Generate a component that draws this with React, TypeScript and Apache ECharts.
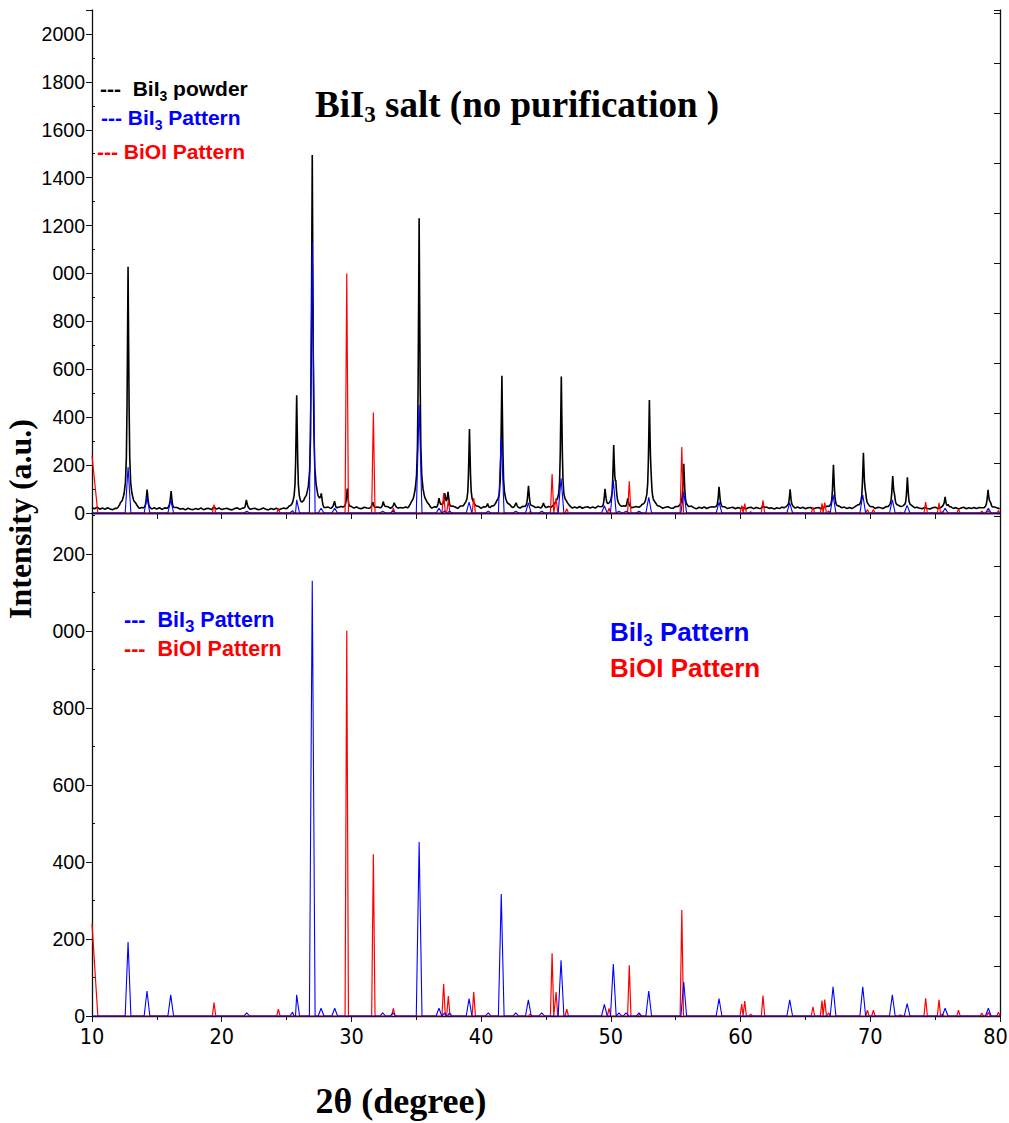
import React, { useEffect, useRef } from "react";
import * as echarts from "echarts";

// ---------- axis / tick data ----------
const xMin = 10;
const xMax = 80;
const topYMax = 2100;
const bottomYMax = 1306;
const topYTickLabels = ["0", "200", "400", "600", "800", "000", "1200", "1400", "1600", "1800", "2000"];
const bottomYTickLabels = ["0", "200", "400", "600", "800", "000", "200"];

// ---------- BiI3 powder (measured) ----------
// background read every 0.2 deg from 10 to 80
const powderBaseStart = 10;
const powderBaseStep = 0.2;
const powderBaseline = [
  22, 18, 24, 16, 21, 15, 22, 17, 14, 20,
  16, 22, 15, 20, 23, 17, 14, 21, 16, 20,
  15, 21, 17, 13, 20, 16, 22, 14, 19, 15,
  20, 14, 18, 21, 15, 19, 13, 20, 16, 14,
  19, 15, 21, 14, 18, 20, 13, 19, 15, 21,
  14, 18, 20, 15, 13, 19, 21, 14, 18, 15,
  19, 13, 18, 20, 14, 16, 21, 16, 13, 19,
  15, 20, 14, 18, 21, 15, 19, 14, 20, 16,
  21, 16, 22, 17, 15, 20, 23, 16, 21, 17,
  20, 23, 17, 22, 16, 21, 24, 18, 22, 17,
  23, 18, 25, 19, 17, 24, 20, 18, 23, 19,
  24, 19, 17, 23, 25, 18, 22, 24, 19, 23,
  20, 25, 19, 23, 18, 24, 20, 26, 19, 23,
  25, 20, 24, 18, 23, 26, 20, 24, 19, 25,
  23, 19, 25, 20, 24, 18, 23, 26, 20, 24,
  19, 25, 21, 18, 24, 20, 26, 19, 23, 25,
  20, 24, 19, 25, 21, 18, 24, 20, 25, 21,
  26, 20, 24, 19, 25, 21, 27, 20, 24, 26,
  21, 25, 20, 26, 22, 19, 25, 21, 27, 20,
  24, 26, 21, 25, 20, 27, 22, 19, 26, 21,
  25, 20, 26, 22, 19, 25, 21, 26, 20, 24,
  27, 21, 25, 20, 26, 22, 19, 25, 21, 26,
  20, 24, 26, 21, 19, 25, 20, 24, 26, 21,
  19, 25, 21, 18, 24, 20, 25, 19, 23, 24,
  20, 18, 24, 19, 23, 17, 22, 24, 18, 23,
  19, 23, 17, 22, 24, 18, 23, 19, 17, 22,
  24, 19, 23, 17, 22, 18, 24, 19, 23, 18,
  22, 17, 23, 19, 24, 18, 22, 23, 17, 21,
  23, 18, 22, 24, 19, 17, 23, 18, 22, 19,
  24, 19, 23, 18, 22, 25, 19, 23, 18, 22,
  19, 23, 18, 24, 22, 17, 23, 19, 24, 18,
  22, 24, 19, 23, 18, 22, 25, 19, 23, 20,
  18, 23, 19, 17, 22, 24, 18, 19, 23, 17,
  19, 23, 18, 22, 17, 21, 24, 18, 22, 19,
  23, 18, 22, 19, 17, 23, 19, 18, 22, 19,
  18,
];
// [2theta, net height above background]
const powderPeaks: [number, number][] = [
  [12.78, 1005], [14.25, 78], [16.1, 75], [19.4, 10], [21.9, 38],
  [25.78, 475], [26.98, 1475], [27.68, 45], [28.7, 30], [29.68, 82],
  [31.65, 23], [32.45, 29], [33.3, 20], [35.22, 1210], [36.75, 38],
  [37.2, 55], [37.45, 60], [39.1, 330], [40.5, 20], [41.6, 550],
  [42.7, 20], [43.65, 90], [44.8, 17], [46.18, 545], [49.55, 73],
  [50.22, 250], [50.38, 70], [51.3, 37], [52.97, 437], [53.1, 60],
  [55.62, 180], [58.34, 87], [61.7, 10], [63.82, 80], [67.16, 180],
  [69.47, 222], [69.62, 45], [71.73, 127], [71.86, 35], [72.86, 130],
  [75.77, 48], [76.0, 12], [79.08, 72], [79.25, 22],
];
// relative peak shape [offset deg, fraction of height]
const peakProfile: [number, number][] = [
  [-0.9, 0], [-0.65, 0.015], [-0.45, 0.035], [-0.3, 0.065], [-0.2, 0.11],
  [-0.13, 0.21], [-0.08, 0.42], [-0.04, 0.7], [0, 1], [0.04, 0.7],
  [0.08, 0.42], [0.13, 0.21], [0.2, 0.11], [0.3, 0.065], [0.45, 0.035],
  [0.65, 0.015], [0.9, 0],
];

// ---------- reference patterns (stick peaks) ----------
const bii3Peaks: [number, number][] = [
  [12.78, 192], [14.24, 65], [16.07, 55], [21.93, 8], [25.47, 10],
  [25.78, 55], [26.98, 1130], [27.66, 20], [28.71, 20], [32.41, 8],
  [33.2, 8], [35.22, 452], [36.75, 20], [37.2, 8], [37.55, 8],
  [39.07, 45], [40.55, 8], [41.55, 317], [42.67, 8], [43.64, 42],
  [44.67, 8], [46.16, 145], [49.5, 30], [50.19, 135], [50.63, 8],
  [51.17, 8], [52.17, 8], [52.92, 65], [55.62, 88], [58.34, 45],
  [63.79, 42], [67.13, 76], [69.42, 76], [71.7, 55], [72.84, 32],
  [75.77, 20], [79.1, 20],
];
const bioiEdge: [number, number][] = [[10.0, 240], [10.45, 0]];
const bioiPeaks: [number, number][] = [
  [19.41, 35], [24.37, 18], [29.64, 1000], [31.69, 420], [33.23, 20],
  [37.11, 83], [37.47, 52], [39.43, 62], [43.77, 5], [45.47, 163],
  [45.78, 62], [46.6, 18], [49.86, 20], [51.42, 132], [52.2, 4],
  [55.47, 275], [60.09, 31], [60.32, 39], [60.78, 5], [61.73, 53],
  [65.58, 24], [66.28, 40], [66.49, 43], [66.8, 8], [69.78, 15],
  [70.24, 15], [72.32, 3], [74.27, 46], [75.3, 42], [75.55, 5],
  [76.8, 15], [78.6, 8], [79.1, 10], [79.88, 10],
];
const bii3HalfWidth = 0.22;
const bioiHalfWidth = 0.13;

// ---------- builders ----------
function baseAt(x: number) {
  const f = (x - powderBaseStart) / powderBaseStep;
  const i = Math.max(0, Math.min(powderBaseline.length - 2, Math.floor(f)));
  const t = Math.max(0, Math.min(1, f - i));
  return powderBaseline[i] * (1 - t) + powderBaseline[i + 1] * t;
}
function profileAt(dx: number) {
  const p = peakProfile;
  if (dx <= p[0][0] || dx >= p[p.length - 1][0]) return 0;
  for (let k = 0; k < p.length - 1; k++) {
    if (dx >= p[k][0] && dx <= p[k + 1][0]) {
      const t = (dx - p[k][0]) / (p[k + 1][0] - p[k][0]);
      return p[k][1] * (1 - t) + p[k + 1][1] * t;
    }
  }
  return 0;
}
function buildPowder() {
  const xs: number[] = [];
  powderBaseline.forEach((_, i) => xs.push(+(powderBaseStart + i * powderBaseStep).toFixed(3)));
  powderPeaks.forEach(([c]) => peakProfile.forEach(([o]) => {
    const x = +(c + o).toFixed(3);
    if (x >= xMin && x <= xMax) xs.push(x);
  }));
  const uniq = Array.from(new Set(xs)).sort((a, b) => a - b);
  return uniq.map((x) => {
    let y = baseAt(x);
    powderPeaks.forEach(([c, h]) => { y += h * profileAt(x - c); });
    return [x, y];
  });
}
function buildSticks(peaks: [number, number][], hw: number, lead: [number, number][] = []) {
  const pts: number[][] = lead.map((p) => [p[0], p[1]]);
  if (!lead.length) pts.push([xMin, 0]);
  peaks.forEach(([c, h]) => {
    pts.push([c - hw, 0], [c, h], [c + hw, 0]);
  });
  pts.push([xMax, 0]);
  return pts.sort((a, b) => a[0] - b[0]);
}

const SERIF = "'Liberation Serif', 'Times New Roman', Times, serif";
const SANS = "'Liberation Sans', Arial, Helvetica, sans-serif";
const NARROW = "'Liberation Sans Narrow', 'Arial Narrow', 'DejaVu Sans Condensed', sans-serif";
const BLUE = "#0000ff";
const RED = "#ff0000";

export default function App() {
  const ref = useRef<HTMLDivElement>(null);
  useEffect(() => {
    if (!ref.current) return;
    const chart = echarts.init(ref.current, undefined, { renderer: "svg" });
    const powder = buildPowder();
    const blue = buildSticks(bii3Peaks, bii3HalfWidth);
    const red = buildSticks(bioiPeaks, bioiHalfWidth, bioiEdge);

    const axisLine = { show: true, lineStyle: { color: "#111", width: 1.3 } };
    const xBase = (gridIndex: number) => ({
      type: "value" as const,
      gridIndex,
      min: xMin,
      max: xMax,
      splitLine: { show: false },
      axisLine,
    });
    const yBase = (gridIndex: number, max: number) => ({
      type: "value" as const,
      gridIndex,
      min: 0,
      max,
      splitLine: { show: false },
    });

    const rich = (size: number, sub: number, color: string) => ({
      m: { fontSize: size, fontWeight: "bold" as const, fontFamily: SANS, fill: color, lineHeight: size + 8 },
      s: { fontSize: sub, fontWeight: "bold" as const, fontFamily: SANS, fill: color, verticalAlign: "bottom" as const },
    });
    const txt = (x: number, y: number, text: string, r: any) => ({
      type: "text",
      x,
      y,
      style: { text, rich: r, align: "left", verticalAlign: "middle" },
    });

    chart.setOption({
      animation: false,
      backgroundColor: "#fff",
      grid: [
        { left: 92, right: 9, top: 10, height: 503, outerBoundsMode: "none", containLabel: false },
        { left: 92, right: 9, top: 513, height: 503, outerBoundsMode: "none", containLabel: false },
      ],
      xAxis: [
        { ...xBase(0), position: "bottom", interval: 5, axisLabel: { show: false },
          axisTick: { show: true, length: 6, lineStyle: { color: "#111" } } },
        { ...xBase(0), position: "top", interval: 5, axisLabel: { show: false },
          axisTick: { show: true, inside: true, length: 5, lineStyle: { color: "#111" } } },
        { ...xBase(1), position: "bottom", interval: 10,
          axisLabel: { show: true, color: "#000", fontFamily: NARROW, fontSize: 21.5, margin: 9,
            formatter: (v: number) => (v === xMax ? `{e|${v}}` : `${v}`),
            rich: { e: { fontFamily: NARROW, fontSize: 21.5, color: "#000", padding: [0, 9, 0, 0] } } },
          axisTick: { show: true, length: 6, lineStyle: { color: "#111" } },
          minorTick: { show: true, splitNumber: 2, length: 4, lineStyle: { color: "#111" } } },
      ],
      yAxis: [
        { ...yBase(0, topYMax), position: "left", interval: 200, axisLine,
          axisLabel: { color: "#000", fontFamily: SANS, fontSize: 19.5, margin: 7,
            formatter: (v: number) => topYTickLabels[Math.round(v / 200)] ?? "" },
          axisTick: { show: true, length: 6, lineStyle: { color: "#111" } } },
        { ...yBase(0, topYMax), position: "left", interval: 200, axisLine: { show: false },
          axisLabel: { show: false }, axisTick: { show: false, inside: true },
          minorTick: { show: true, splitNumber: 2, length: 3, lineStyle: { color: "#111" } } },
        { ...yBase(0, 10.06), position: "right", interval: 1, axisLine,
          axisLabel: { show: false },
          axisTick: { show: true, inside: true, length: 6, lineStyle: { color: "#111" } } },
        { ...yBase(1, bottomYMax), position: "left", interval: 200, axisLine,
          axisLabel: { color: "#000", fontFamily: SANS, fontSize: 19.5, margin: 7,
            formatter: (v: number) => bottomYTickLabels[Math.round(v / 200)] ?? "" },
          axisTick: { show: true, length: 6, lineStyle: { color: "#111" } } },
        { ...yBase(1, bottomYMax), position: "left", interval: 200, axisLine: { show: false },
          axisLabel: { show: false }, axisTick: { show: false, inside: true },
          minorTick: { show: true, splitNumber: 2, length: 3, lineStyle: { color: "#111" } } },
        { ...yBase(1, 10.06), position: "right", interval: 1, axisLine,
          axisLabel: { show: false },
          axisTick: { show: true, inside: true, length: 6, lineStyle: { color: "#111" } } },
      ],
      series: [
        { type: "line", name: "BiI3 powder", xAxisIndex: 0, yAxisIndex: 0, data: powder,
          symbol: "none", lineStyle: { color: "#000", width: 1.6 }, z: 2 },
        { type: "line", name: "BiOI top", xAxisIndex: 0, yAxisIndex: 0, data: red,
          symbol: "none", lineStyle: { color: RED, width: 1.2 }, z: 3 },
        { type: "line", name: "BiI3 top", xAxisIndex: 0, yAxisIndex: 0, data: blue,
          symbol: "none", lineStyle: { color: BLUE, width: 1.1 }, z: 4 },
        { type: "line", name: "BiOI bottom", xAxisIndex: 2, yAxisIndex: 3, data: red,
          symbol: "none", lineStyle: { color: RED, width: 1.2 }, z: 3 },
        { type: "line", name: "BiI3 bottom", xAxisIndex: 2, yAxisIndex: 3, data: blue,
          symbol: "none", lineStyle: { color: BLUE, width: 1.1 }, z: 4 },
      ],
      graphic: [
        { type: "text", x: 315, y: 104, style: {
            text: "{m|BiI}{s|3}{m| salt (no purification )}",
            align: "left", verticalAlign: "middle",
            rich: {
              m: { fontSize: 37, fontWeight: "bold", fontFamily: SERIF, fill: "#000", lineHeight: 44 },
              s: { fontSize: 23, fontWeight: "bold", fontFamily: SERIF, fill: "#000", verticalAlign: "bottom" },
            } } },
        { type: "text", x: 20, y: 519, rotation: Math.PI / 2, style: {
            text: "Intensity (a.u.)", align: "center", verticalAlign: "middle",
            fontSize: 32, fontWeight: "bold", fontFamily: SERIF, fill: "#000" } },
        { type: "text", x: 401, y: 1101, style: {
            text: "2\u03b8 (degree)", align: "center", verticalAlign: "middle",
            fontSize: 36, fontWeight: "bold", fontFamily: SERIF, fill: "#000" } },
        // top legend
        txt(100, 88, "{m|---  BiI}{s|3}{m| powder}", rich(21, 14, "#000")),
        txt(101, 117, "{m|--- BiI}{s|3}{m| Pattern}", rich(21, 14, BLUE)),
        txt(97, 151, "{m|--- BiOI Pattern}", rich(21, 14, RED)),
        // bottom legend
        txt(124, 620, "{m|---  BiI}{s|3}{m| Pattern}", rich(21.5, 17, BLUE)),
        txt(124, 649, "{m|---  BiOI Pattern}", rich(21.5, 17, RED)),
        // bottom right labels
        txt(610, 632, "{m|BiI}{s|3}{m| Pattern}", rich(26, 17, BLUE)),
        txt(610, 668, "{m|BiOI Pattern}", rich(26, 17, RED)),
      ],
    });
    return () => chart.dispose();
  }, []);
  return (
    <div
      ref={ref}
      style={{ position: "absolute", left: 0, top: 0, width: 1009, height: 1123, background: "#fff" }}
    />
  );
}
